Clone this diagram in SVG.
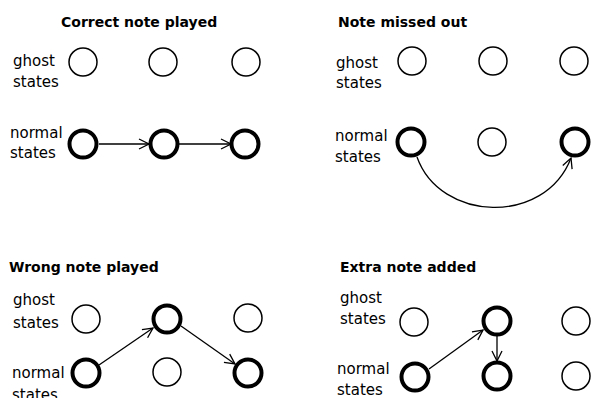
<svg xmlns="http://www.w3.org/2000/svg" width="591" height="398" viewBox="0 0 591 398">
<style>
.bg{fill:#fff}
.t{font-family:"DejaVu Sans",sans-serif;font-size:14px;font-weight:bold;fill:#000}
.l{font-family:"DejaVu Sans",sans-serif;font-size:15px;fill:#000}
.g{fill:#fff;stroke:#000;stroke-width:1.5}
.n{fill:#fff;stroke:#000;stroke-width:4}
.c{fill:none;stroke:#000;stroke-width:1.3}
</style>
<defs>
<marker id="ah" markerUnits="userSpaceOnUse" markerWidth="12" markerHeight="12" viewBox="0 0 12 12" refX="11" refY="6" orient="auto">
<path d="M1,1 L11,6 L1,11" fill="none" stroke="#000" stroke-width="1.3"/>
</marker>
</defs>
<rect class="bg" x="0" y="0" width="591" height="398"/>
<g id="titles">
<text class="t" x="61" y="27">Correct note played</text>
<text class="t" x="338" y="27">Note missed out</text>
<text class="t" x="9" y="272">Wrong note played</text>
<text class="t" x="340" y="272">Extra note added</text>
</g>
<g id="labels">
<text class="l" x="13" y="66">ghost</text><text class="l" x="13" y="87">states</text>
<text class="l" x="10" y="138">normal</text><text class="l" x="10" y="158">states</text>
<text class="l" x="336" y="68">ghost</text><text class="l" x="336" y="88">states</text>
<text class="l" x="335" y="141">normal</text><text class="l" x="335" y="162">states</text>
<text class="l" x="13" y="305">ghost</text><text class="l" x="13" y="328">states</text>
<text class="l" x="12" y="378">normal</text><text class="l" x="12" y="400">states</text>
<text class="l" x="340" y="303">ghost</text><text class="l" x="340" y="324">states</text>
<text class="l" x="337" y="374">normal</text><text class="l" x="337" y="395">states</text>
</g>
<g id="connectors">
<line class="c" x1="99" y1="144" x2="149" y2="144" marker-end="url(#ah)"/>
<line class="c" x1="179" y1="144" x2="231" y2="144" marker-end="url(#ah)"/>
<path class="c" d="M417,157 C440,222 545,226 571,158" marker-end="url(#ah)"/>
<line class="c" x1="99" y1="365" x2="153" y2="328" marker-end="url(#ah)"/>
<line class="c" x1="181" y1="326" x2="235" y2="364" marker-end="url(#ah)"/>
<line class="c" x1="429" y1="369" x2="483" y2="330" marker-end="url(#ah)"/>
<line class="c" x1="497" y1="336" x2="497" y2="361" marker-end="url(#ah)"/>
</g>
<g id="p1-g1"><circle class="g" cx="83" cy="62" r="14"/></g>
<g id="p1-g2"><circle class="g" cx="163" cy="62" r="14"/></g>
<g id="p1-g3"><circle class="g" cx="246" cy="62" r="14"/></g>
<g id="p1-n1"><circle class="n" cx="83" cy="144" r="13.5"/></g>
<g id="p1-n2"><circle class="n" cx="164" cy="144" r="13.5"/></g>
<g id="p1-n3"><circle class="n" cx="245" cy="144" r="13.5"/></g>
<g id="p2-g1"><circle class="g" cx="412" cy="61" r="14"/></g>
<g id="p2-g2"><circle class="g" cx="493" cy="61" r="14"/></g>
<g id="p2-g3"><circle class="g" cx="574" cy="61" r="14"/></g>
<g id="p2-n1"><circle class="n" cx="411" cy="142" r="13.5"/></g>
<g id="p2-n2"><circle class="g" cx="492" cy="142" r="14"/></g>
<g id="p2-n3"><circle class="n" cx="575" cy="142" r="13.5"/></g>
<g id="p3-g1"><circle class="g" cx="86" cy="319" r="14"/></g>
<g id="p3-g2"><circle class="n" cx="167" cy="319" r="13.5"/></g>
<g id="p3-g3"><circle class="g" cx="248" cy="318" r="14"/></g>
<g id="p3-n1"><circle class="n" cx="86" cy="373" r="13.5"/></g>
<g id="p3-n2"><circle class="g" cx="167" cy="372" r="14"/></g>
<g id="p3-n3"><circle class="n" cx="248" cy="373" r="13.5"/></g>
<g id="p4-g1"><circle class="g" cx="414" cy="322" r="14"/></g>
<g id="p4-g2"><circle class="n" cx="497" cy="321" r="13.5"/></g>
<g id="p4-g3"><circle class="g" cx="576" cy="321" r="14"/></g>
<g id="p4-n1"><circle class="n" cx="415" cy="377" r="13.5"/></g>
<g id="p4-n2"><circle class="n" cx="497" cy="376" r="13.5"/></g>
<g id="p4-n3"><circle class="g" cx="576" cy="376" r="14"/></g>
</svg>
